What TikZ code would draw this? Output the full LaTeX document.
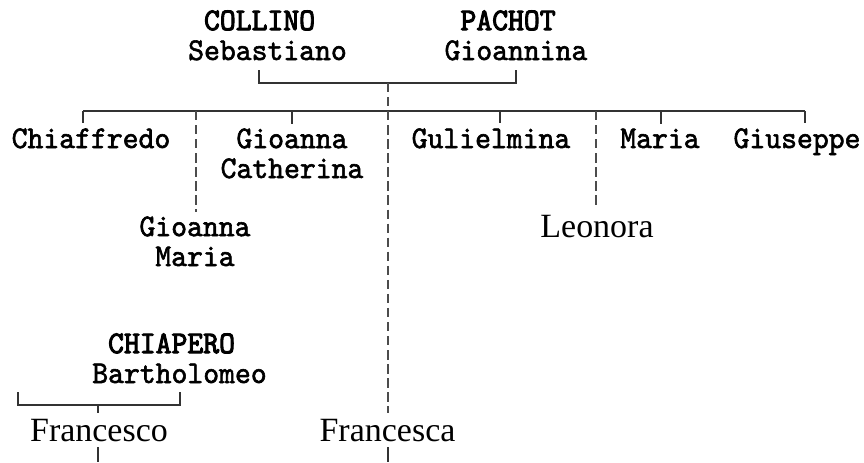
\documentclass[tikz,border=0pt]{standalone}
\usepackage{fontspec}
\setmainfont{Liberation Serif}
\newfontfamily\namefont[FakeStretch=0.955, FakeBold=1.8]{lmmono10-regular.otf}
\newfontfamily\surnamefont[FakeStretch=0.955, FakeBold=3]{lmmono10-regular.otf}
\begin{document}
\begin{tikzpicture}[x=0.03cm, y=-0.03cm,
    mono/.style={font=\namefont\fontsize{27}{25.5}\selectfont, inner sep=4pt, anchor=base},
    serif/.style={font=\fontsize{29}{30}\selectfont, inner sep=5pt, anchor=base},
    line/.style={line width=2pt, draw=black!80},
    dline/.style={line, draw=black!70, dash pattern=on 8pt off 4pt}]
    \useasboundingbox (0,0) rectangle (864,462);

    % Define people
    \node[mono, align=left] (collino) at (267.5,60) {\hphantom{S}{\surnamefont COLLINO}\\Sebastiano};
    \node[mono, align=left] (pachot) at (516,60) {\hphantom{G}{\surnamefont PACHOT}\\Gioannina};
    \node[mono] (chiaffredo) at (91,148) {Chiaffredo};
    \node[mono, align=center] (catherina) at (292,178) {Gioanna\\Catherina};
    \node[mono] (gulielmina) at (491,148) {Gulielmina};
    \node[mono] (maria) at (660,148) {Maria};
    \node[mono] (giuseppe) at (797,148) {Giuseppe};
    \node[mono, align=center] (gmaria) at (195,266) {Gioanna\\Maria};
    \node[serif] (leonora) at (597,237) {Leonora};
    \node[mono, align=left] (chiapero) at (179.5,383) {\hphantom{B}{\surnamefont CHIAPERO}\\Bartholomeo};
    \node[serif] (francesco) at (99,441) {Francesco};
    \node[serif] (francesca) at (387.5,441) {Francesca};

    % Define junctions
    \coordinate (cl) at (259,70);
    \coordinate (cr) at (516,70);
    \coordinate (cm) at (388,83);
    \coordinate (bl) at (83,111);
    \coordinate (br) at (805,111);
    \coordinate (tchiaffredo) at (83,111);
    \coordinate (tcatherina) at (292,111);
    \coordinate (tgulielmina) at (500,111);
    \coordinate (tmaria) at (661,111);
    \coordinate (tgiuseppe) at (805,111);
    \coordinate (tgmaria) at (196,111);
    \coordinate (tleonora) at (596,111);
    \coordinate (kl) at (18,392);
    \coordinate (kr) at (180,392);
    \coordinate (km) at (98,405);
    \coordinate (fo) at (98,462);
    \coordinate (fa) at (388,462);

    % Draw couples
    \draw[line] (cl) |- (cm) -| (cr);
    \draw[line] (kl) |- (km) -| (kr);

    % Draw children
    \draw[line] (bl) -- (br);
    \foreach \n in {chiaffredo, catherina, gulielmina, maria, giuseppe}
        \draw[line] (t\n) -- (t\n |- \n.north);
    \draw[dline] (tgmaria) -- (tgmaria |- gmaria.north);
    \draw[dline] (tleonora) -- (tleonora |- leonora.north);
    \draw[dline] (cm) -- (cm |- francesca.north);
    \draw[line] (km) -- (km |- francesco.north);

    % Draw descent
    \draw[line] (francesco.south -| fo) -- (fo);
    \draw[line] (francesca.south -| fa) -- (fa);
\end{tikzpicture}
\end{document}
